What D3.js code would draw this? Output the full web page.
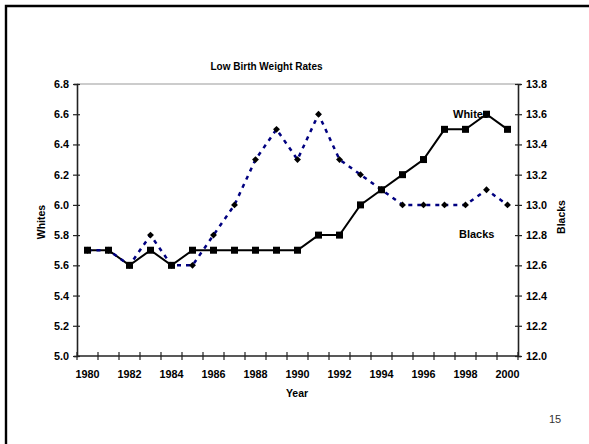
<!DOCTYPE html>
<html>
<head>
<meta charset="utf-8">
<script src="https://cdn.jsdelivr.net/npm/d3@7"></script>
<style>
  html, body { margin: 0; padding: 0; background: #fff; }
  svg { display: block; font-family: "Liberation Sans", Arial, sans-serif; }
</style>
</head>
<body>
<svg id="chart" width="589" height="444"></svg>
<script>
// Low birth weight rates (%), 1980–2000
const years = [1980, 1981, 1982, 1983, 1984, 1985, 1986, 1987, 1988, 1989, 1990,
               1991, 1992, 1993, 1994, 1995, 1996, 1997, 1998, 1999, 2000];
const whites = [5.7, 5.7, 5.6, 5.7, 5.6, 5.7, 5.7, 5.7, 5.7, 5.7, 5.7,
                5.8, 5.8, 6.0, 6.1, 6.2, 6.3, 6.5, 6.5, 6.6, 6.5];
const blacks = [12.7, 12.7, 12.6, 12.8, 12.6, 12.6, 12.8, 13.0, 13.3, 13.5, 13.3,
                13.6, 13.3, 13.2, 13.1, 13.0, 13.0, 13.0, 13.0, 13.1, 13.0];
const leftTicks = [5.0, 5.2, 5.4, 5.6, 5.8, 6.0, 6.2, 6.4, 6.6, 6.8];
const rightTicks = [12.0, 12.2, 12.4, 12.6, 12.8, 13.0, 13.2, 13.4, 13.6, 13.8];
const yearLabels = [1980, 1982, 1984, 1986, 1988, 1990, 1992, 1994, 1996, 1998, 2000];

const svg = d3.select("#chart");
const plot = { left: 77, right: 518, top: 84, bottom: 356 };

const x = d3.scaleBand().domain(years).range([plot.left, plot.right]).padding(0);
const cx = d => x(d) + x.bandwidth() / 2;
const yL = d3.scaleLinear().domain([5.0, 6.8]).range([plot.bottom, plot.top]);
const yR = d3.scaleLinear().domain([12.0, 13.8]).range([plot.bottom, plot.top]);

// page frame
svg.append("path")
  .attr("d", `M6,444 L6,6 L589,6`)
  .attr("fill", "none").attr("stroke", "#000").attr("stroke-width", 2.4);

// title
svg.append("text").attr("x", 266.5).attr("y", 70).attr("text-anchor", "middle")
  .attr("font-size", 10).attr("font-weight", "bold").text("Low Birth Weight Rates");

// top edge of the plot area
svg.append("line").attr("x1", plot.left).attr("x2", plot.right)
  .attr("y1", plot.top).attr("y2", plot.top).attr("stroke", "#999").attr("stroke-width", 1);

const tickFont = g => g.selectAll("text")
  .attr("font-size", 10.8).attr("font-weight", "bold").attr("fill", "#000")
  .attr("font-family", "Liberation Sans, Arial, sans-serif");

// left axis (Whites)
const gL = svg.append("g").attr("transform", `translate(${plot.left},0)`)
  .call(d3.axisLeft(yL).tickValues(leftTicks).tickFormat(d3.format(".1f")).tickSize(3).tickPadding(5));
gL.select(".domain").attr("stroke", "#222").attr("stroke-width", 1.6);
gL.selectAll(".tick line").attr("x1", 3).attr("x2", -4).attr("stroke", "#222").attr("stroke-width", 1.2);
gL.call(tickFont);

// right axis (Blacks)
const gR = svg.append("g").attr("transform", `translate(${plot.right},0)`)
  .call(d3.axisRight(yR).tickValues(rightTicks).tickFormat(d3.format(".1f")).tickSize(3).tickPadding(5));
gR.select(".domain").attr("stroke", "#222").attr("stroke-width", 1.6);
gR.selectAll(".tick line").attr("x1", -3).attr("x2", 4).attr("stroke", "#222").attr("stroke-width", 1.2);
gR.call(tickFont);

// bottom axis: tick marks at category boundaries, labels at category centres
const gB = svg.append("g").attr("transform", `translate(0,${plot.bottom})`);
gB.append("line").attr("x1", plot.left).attr("x2", plot.right)
  .attr("stroke", "#222").attr("stroke-width", 1.6);
const bounds = years.map(d => x(d)).concat([x(years[years.length - 1]) + x.bandwidth()]);
gB.selectAll("line.tk").data(bounds).join("line").attr("class", "tk")
  .attr("x1", d => d).attr("x2", d => d).attr("y1", -4).attr("y2", 4)
  .attr("stroke", "#222").attr("stroke-width", 1.2);
gB.selectAll("text.yr").data(yearLabels).join("text").attr("class", "yr")
  .attr("x", d => cx(d)).attr("y", 22).attr("text-anchor", "middle")
  .attr("font-size", 10.8).attr("font-weight", "bold").text(d => d);

// axis titles
svg.append("text").attr("x", 297).attr("y", 397).attr("text-anchor", "middle")
  .attr("font-size", 10.5).attr("font-weight", "bold").text("Year");
svg.append("text").attr("transform", "translate(45,222) rotate(-90)").attr("text-anchor", "middle")
  .attr("font-size", 10.5).attr("font-weight", "bold").text("Whites");
svg.append("text").attr("transform", "translate(565,217) rotate(-90)").attr("text-anchor", "middle")
  .attr("font-size", 10.5).attr("font-weight", "bold").text("Blacks");

// series labels
svg.append("text").attr("x", 453).attr("y", 118)
  .attr("font-size", 11).attr("font-weight", "bold").text("Whites");
svg.append("text").attr("x", 459).attr("y", 238)
  .attr("font-size", 11).attr("font-weight", "bold").text("Blacks");

// Whites: solid black line with square markers (left scale)
const lineW = d3.line().x((d, i) => cx(years[i])).y(d => yL(d));
svg.append("path").datum(whites).attr("d", lineW)
  .attr("fill", "none").attr("stroke", "#000").attr("stroke-width", 2);

// Blacks: dashed navy line with diamond markers (right scale)
const lineB = d3.line().x((d, i) => cx(years[i])).y(d => yR(d));
svg.append("path").datum(blacks).attr("d", lineB)
  .attr("fill", "none").attr("stroke", "#000080").attr("stroke-width", 2.5)
  .attr("stroke-dasharray", "4,5");

svg.selectAll("path.dia").data(blacks).join("path").attr("class", "dia")
  .attr("d", d3.symbol(d3.symbolDiamond2, 30))
  .attr("transform", (d, i) => `translate(${cx(years[i])},${yR(d)})`)
  .attr("fill", "#000");

svg.selectAll("rect.sq").data(whites).join("rect").attr("class", "sq")
  .attr("x", (d, i) => cx(years[i]) - 3.5).attr("y", d => yL(d) - 3.5)
  .attr("width", 7).attr("height", 7).attr("fill", "#000");

// page number
svg.append("text").attr("x", 555).attr("y", 423).attr("text-anchor", "middle")
  .attr("font-size", 11).attr("fill", "#333").text("15");
</script>
</body>
</html>
